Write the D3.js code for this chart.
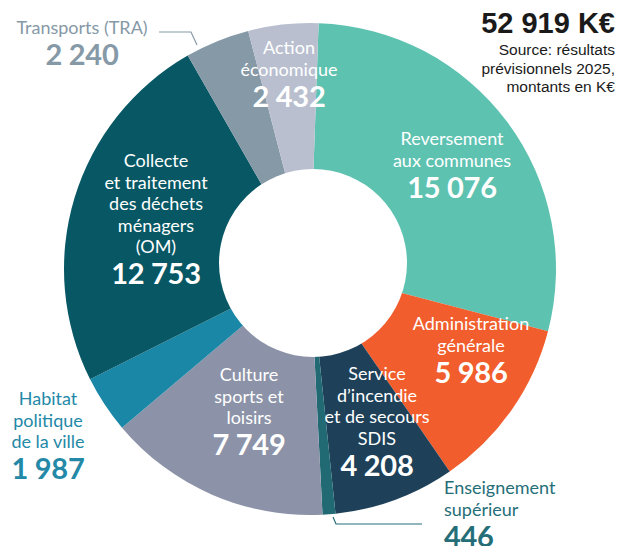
<!DOCTYPE html>
<html>
<head>
<meta charset="utf-8">
<script src="https://cdn.jsdelivr.net/npm/d3@7"></script>
<style>
  body { margin: 0; background: #fff; }
  svg text { font-family: Lato, "Open Sans", sans-serif; }
</style>
</head>
<body>
<div id="chart"></div>
<script>
// budget data, K€ (résultats prévisionnels 2025)
const categories = ['Reversement', 'Administration', 'SDIS', 'Enseignement', 'Culture', 'Habitat', 'Collecte', 'Transports', 'Action'];
const values = [15076, 5986, 4208, 446, 7749, 1987, 12753, 2240, 2432];
const labelLines = [
  ['Reversement', 'aux communes'],
  ['Administration', 'générale'],
  ['Service', 'd\u2019incendie', 'et de secours', 'SDIS'],
  ['Enseignement', 'supérieur'],
  ['Culture', 'sports et', 'loisirs'],
  ['Habitat', 'politique', 'de la ville'],
  ['Collecte', 'et traitement', 'des déchets', 'ménagers', '(OM)'],
  ['Transports (TRA)'],
  ['Action', 'économique']
];
const colors = ['#5ec2b1', '#f15d2c', '#1e4159', '#226a73', '#8c93a8', '#1b87a6', '#075764', '#8699a7', '#b9bfcf'];
const totalLabel = '52 919 K€';
const sourceLines = ['Source: résultats', 'prévisionnels 2025,', 'montants en K€'];

const w = 622;
const h = 546;
const cx = 310;
const cy = 269;
const outerR = 246;
const innerR = 94;

const fr = d3.formatLocale({ decimal: ',', thousands: ' ', grouping: [3], currency: ['', ' €'] });
const fmt = fr.format(',d');

const svg = d3.select('#chart')
  .append('svg')
  .attr('width', w)
  .attr('height', h);

const start = 0.035;
const pie = d3.pie()
  .sort(null)
  .value(d => d.value)
  .startAngle(start)
  .endAngle(start + 2 * Math.PI);

const data = categories.map((c, i) => ({ key: c, value: values[i], lines: labelLines[i], color: colors[i] }));
const arcs = pie(data);

const arc = d3.arc()
  .innerRadius(70)
  .outerRadius(outerR);

const g = svg.append('g')
  .attr('transform', 'translate(' + cx + ',' + cy + ')');

g.selectAll('path')
  .data(arcs)
  .enter()
  .append('path')
  .attr('d', arc)
  .attr('fill', d => d.data.color);

// hole
g.append('circle')
  .attr('cx', 3)
  .attr('cy', -6)
  .attr('r', innerR)
  .attr('fill', '#fff');

// label layout: x anchor, first baseline, text colour, anchor
const layout = {
  Reversement: { x: 452, y: 145, fill: '#fff', anchor: 'middle' },
  Administration: { x: 471, y: 330, fill: '#fff', anchor: 'middle' },
  SDIS: { x: 377, y: 380, fill: '#fff', anchor: 'middle' },
  Enseignement: { x: 444, y: 494, fill: '#256e78', anchor: 'start' },
  Culture: { x: 249, y: 381, fill: '#fff', anchor: 'middle' },
  Habitat: { x: 48, y: 405, fill: '#2389a7', anchor: 'middle' },
  Collecte: { x: 156, y: 167, fill: '#fff', anchor: 'middle' },
  Transports: { x: 82, y: 34, fill: '#8699a7', anchor: 'middle' },
  Action: { x: 289, y: 54, fill: '#fff', anchor: 'middle' }
};

const lineH = 21.5;
arcs.forEach(a => {
  const p = layout[a.data.key];
  const t = svg.append('g').attr('class', 'label');
  a.data.lines.forEach((line, j) => {
    t.append('text')
      .attr('x', p.x)
      .attr('y', p.y + j * lineH)
      .attr('text-anchor', p.anchor)
      .attr('fill', p.fill)
      .style('font-size', '18px')
      .text(line);
  });
  t.append('text')
    .attr('x', p.x)
    .attr('y', p.y + (a.data.lines.length - 1) * lineH + 31)
    .attr('text-anchor', p.anchor)
    .attr('fill', p.fill)
    .style('font-size', '29px')
    .style('font-weight', 700)
    .style('letter-spacing', '-0.3px')
    .text(fmt(a.data.value));
});

// leader lines for the outside labels
const leader = d3.line();
svg.append('path')
  .attr('d', leader([[159, 32], [191, 32], [197, 45]]))
  .attr('fill', 'none')
  .attr('stroke', '#8699a7')
  .attr('stroke-width', 1.2);
svg.append('path')
  .attr('d', leader([[333, 517], [336, 524], [422, 524]]))
  .attr('fill', 'none')
  .attr('stroke', '#256e78')
  .attr('stroke-width', 1.2);

// total and source
svg.append('text')
  .attr('x', 615)
  .attr('y', 33)
  .attr('text-anchor', 'end')
  .attr('fill', '#1a1a1a')
  .style('font-family', '"Liberation Sans", Arial, sans-serif')
  .style('font-size', '29px')
  .style('font-weight', 700)
  .text(totalLabel);

svg.selectAll('.source')
  .data(sourceLines)
  .enter()
  .append('text')
  .attr('class', 'source')
  .attr('x', 615)
  .attr('y', (d, i) => 55 + i * 18.5)
  .attr('text-anchor', 'end')
  .attr('fill', '#1a1a1a')
  .style('font-family', '"Liberation Sans", Arial, sans-serif')
  .style('font-size', '15.5px')
  .text(d => d);
</script>
</body>
</html>
